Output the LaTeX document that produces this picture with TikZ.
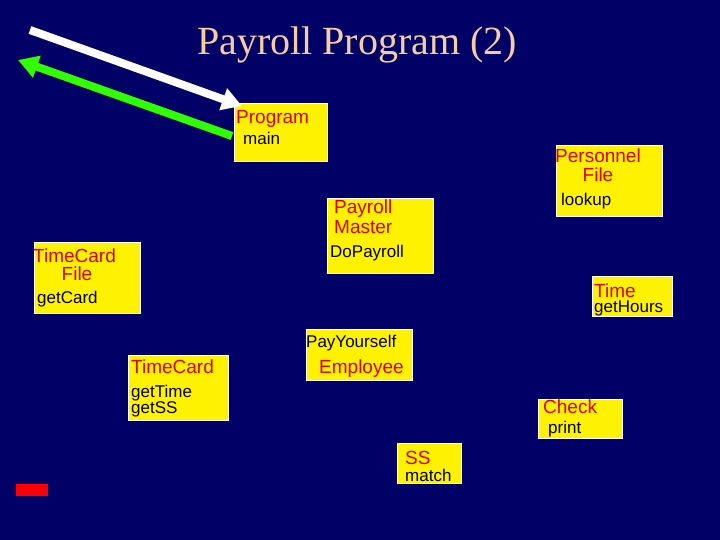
\documentclass[tikz,border=0pt]{standalone}
\usepackage{fontspec}
\setmainfont{Liberation Serif}
\newfontfamily\arial{Liberation Sans}
\begin{document}
\begin{tikzpicture}[x=1pt,y=-1pt,
  box/.style={fill=yellow,draw=white,line width=0.8pt},
  cls/.style={anchor=west,inner sep=0pt,text=red!85!black,font=\arial\fontsize{19}{20}\selectfont},
  mth/.style={anchor=west,inner sep=0pt,text=black,font=\arial\fontsize{17}{18}\selectfont},
  arr/.style={line width=8pt,-{Triangle[length=20pt,width=22pt]}}]
\usetikzlibrary{arrows.meta}
\fill[fill={rgb,255:red,0;green,0;blue,102}] (0,0) rectangle (720,540);
\useasboundingbox (0,0) rectangle (720,540);
\node[text={rgb,255:red,245;green,205;blue,160},font=\fontsize{40}{42}\selectfont] (title) at (357,45) {Payroll Program (2)};
% boxes
\draw[box] (234,103) rectangle (327,161);
\draw[box] (556,145) rectangle (662,216);
\draw[box] (327,198) rectangle (433,273);
\draw[box] (34,242) rectangle (140,313);
\draw[box] (592,276) rectangle (672,316);
\draw[box] (306,329) rectangle (412,380);
\draw[box] (128,355) rectangle (228,420);
\draw[box] (538,399) rectangle (622,438);
\draw[box] (397,443) rectangle (461,483);
\fill[red] (16,484) rectangle (48,496);
% texts
\node[cls] (prog) at (236,119) {Program};
\node[mth] (main) at (243,138) {main};
\node[cls,anchor=center] (pers) at (598,156) {Personnel};
\node[cls,anchor=center] (pfile) at (598,175) {File};
\node[mth] (lookup) at (561,201) {lookup};
\node[cls] (pay) at (334,209) {Payroll};
\node[cls] (master) at (334,227) {Master};
\node[mth] (dopay) at (330,253) {DoPayroll};
\node[cls] (tcf) at (33,256) {TimeCard};
\node[cls,anchor=center] (tcfile) at (77,274) {File};
\node[mth] (getcard) at (37,299) {getCard};
\node[cls] (time) at (594,291) {Time};
\node[mth] (gethours) at (594,308) {getHours};
\node[mth] (payy) at (306,343) {PayYourself};
\node[cls] (emp) at (319,369) {Employee};
\node[cls] (tc) at (131,367) {TimeCard};
\node[mth] (gettime) at (131,393) {getTime};
\node[mth] (getss) at (131,409) {getSS};
\node[cls] (check) at (543,407) {Check};
\node[mth] (print) at (548,429) {print};
\node[cls] (ss) at (405,458) {SS};
\node[mth] (match) at (405,475) {match};
% arrows
\coordinate (w1) at (30,30);
\coordinate (w2) at (242,106);
\coordinate (g1) at (232,136);
\coordinate (g2) at (18,60);
\draw[arr,white] (w1) -- (w2);
\draw[arr,green!75!lime] (g1) -- (g2);
\end{tikzpicture}
\end{document}
